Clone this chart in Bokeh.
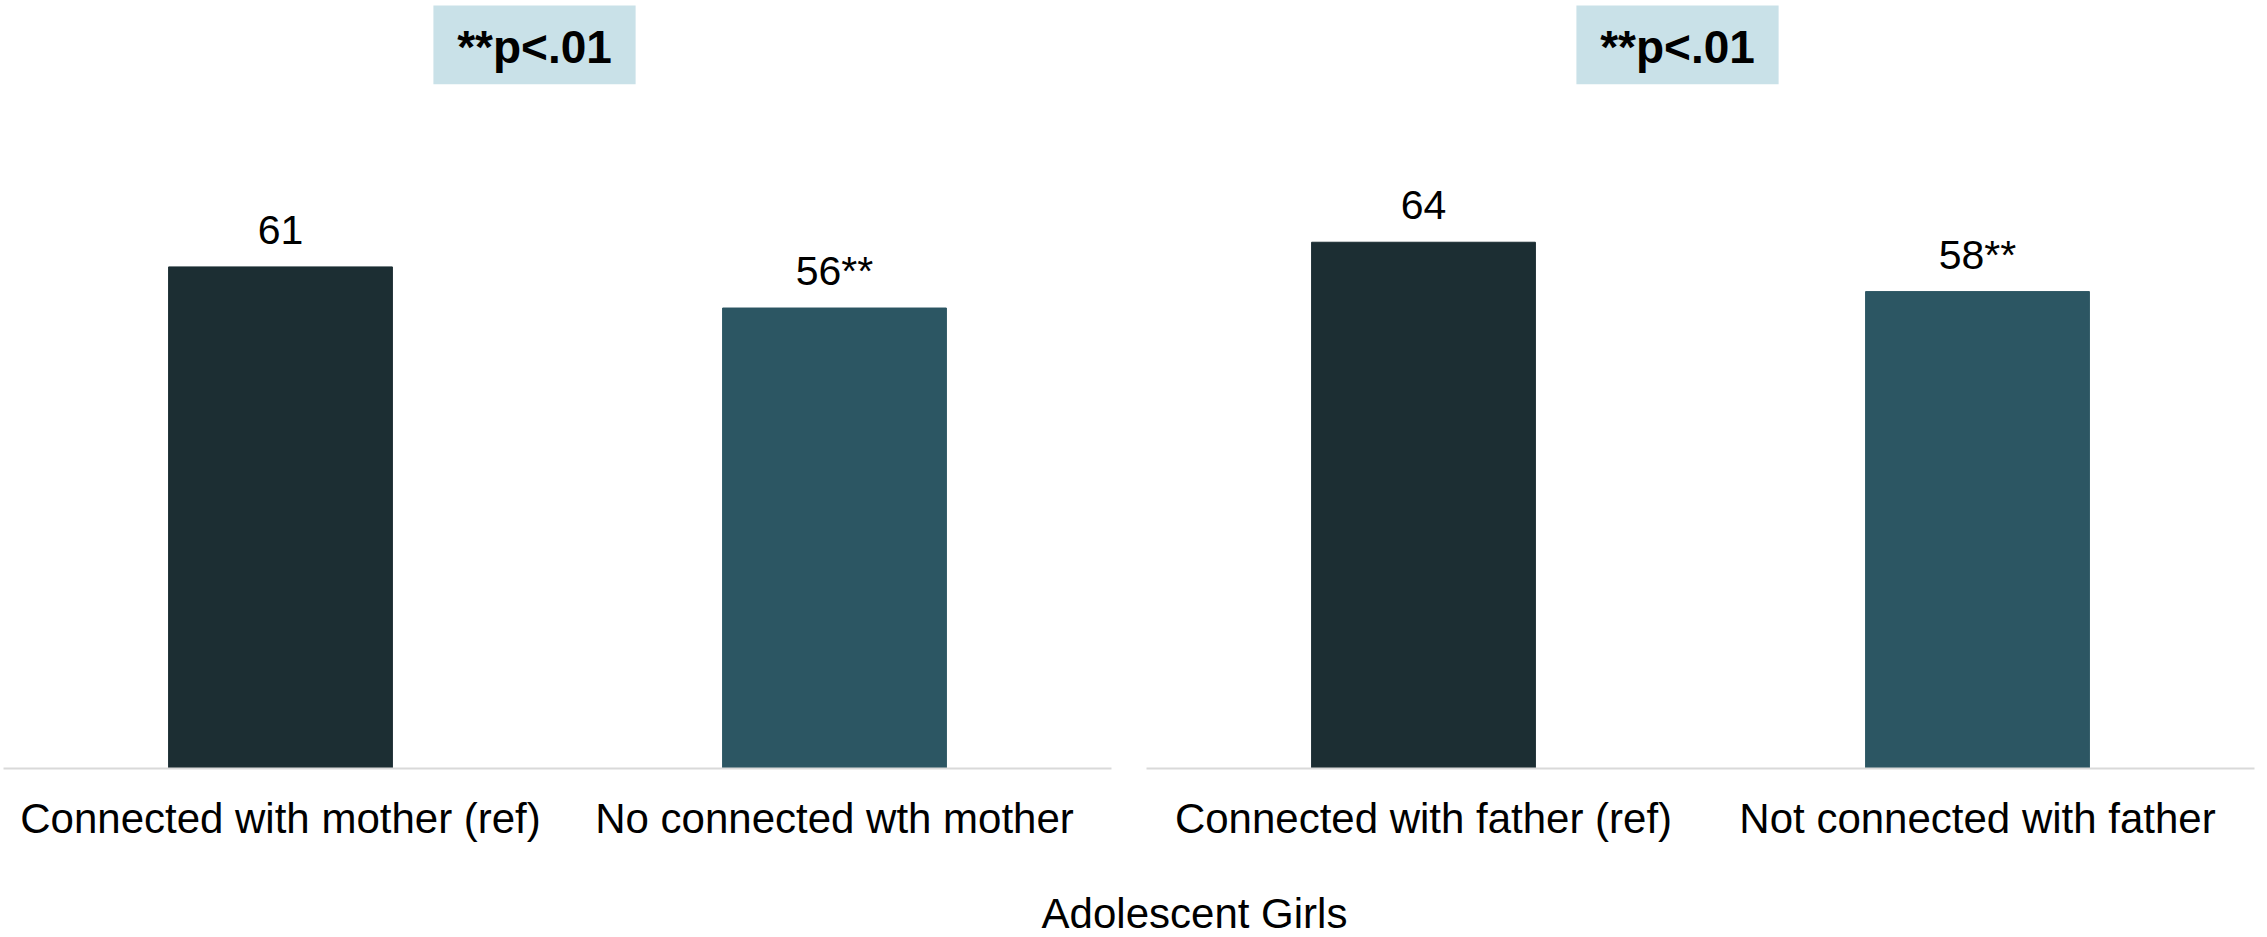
from bokeh.plotting import figure
from bokeh.models import ColumnDataSource, Range1d, LabelSet, Label, BoxAnnotation
from bokeh.layouts import row, column
from bokeh.core.properties import value
from bokeh.embed import file_html
from bokeh.resources import INLINE

# ---- data ----
mother_categories = ["Connected with mother (ref)", "No connected wth mother"]
mother_values = [61, 56]
mother_marks = ["", "**"]

father_categories = ["Connected with father (ref)", "Not connected with father"]
father_values = [64, 58]
father_marks = ["", "**"]

sig_note = "**p<.01"
group_title = "Adolescent Girls"

# ---- styles ----
FONT = "Liberation Sans"
BAR_COLORS = ["#1C2E33", "#2C5663"]
BOX_COLOR = "#C9E1E8"
AXIS_COLOR = "#D9D9D9"
Y_MAX = 93.4
# note box placement (category-axis units / value units)
BOX_LEFT, BOX_RIGHT = 0.776, 1.141
BOX_BOTTOM, BOX_TOP = 83.2, 92.8
NOTE_BASELINE = 87.7


def panel(cats, vals, marks, width, border_left, border_right):
    src = ColumnDataSource(dict(
        cat=cats, val=vals, color=BAR_COLORS,
        txt=[f"{v}{m}" for v, m in zip(vals, marks)],
    ))
    p = figure(x_range=cats, y_range=Range1d(0, Y_MAX), width=width, height=860,
               output_backend="svg", toolbar_location=None, y_axis_location=None,
               min_border_left=border_left, min_border_right=border_right,
               min_border_top=0, min_border_bottom=92)
    p.vbar(x="cat", top="val", width=0.404, color="color", source=src)
    p.add_layout(LabelSet(x="cat", y="val", text="txt", source=src, y_offset=23,
                          text_align="center", text_baseline="alphabetic",
                          text_font=value(FONT), text_font_size="41px",
                          text_color="#000000"))
    p.add_layout(BoxAnnotation(left=BOX_LEFT, right=BOX_RIGHT, bottom=BOX_BOTTOM,
                               top=BOX_TOP, fill_color=BOX_COLOR, fill_alpha=1.0,
                               line_color=None))
    p.add_layout(Label(x=(BOX_LEFT + BOX_RIGHT) / 2, y=NOTE_BASELINE, text=sig_note,
                       text_align="center", text_baseline="alphabetic",
                       text_font=FONT, text_font_size="46px",
                       text_font_style="bold", text_color="#000000"))
    p.xgrid.visible = False
    p.ygrid.visible = False
    p.outline_line_color = None
    ax = p.xaxis[0]
    ax.axis_line_color = AXIS_COLOR
    ax.axis_line_width = 2
    ax.major_tick_line_color = None
    ax.minor_tick_line_color = None
    ax.major_label_standoff = 20
    ax.major_label_text_font = FONT
    ax.major_label_text_font_size = "42px"
    ax.major_label_text_color = "#000000"
    return p


p1 = panel(mother_categories, mother_values, mother_marks, 1128, 3, 17)
p2 = panel(father_categories, father_values, father_marks, 1139, 18, 13)

# bottom strip holding the shared axis title; its ranges map 1 unit to 1 pixel
p3 = figure(width=2267, height=77, x_range=Range1d(0, 2267), y_range=Range1d(0, 77),
            output_backend="svg", toolbar_location=None,
            x_axis_location=None, y_axis_location=None,
            min_border_left=0, min_border_right=0, min_border_top=0, min_border_bottom=0)
p3.outline_line_color = None
p3.xgrid.visible = False
p3.ygrid.visible = False
p3.add_layout(Label(x=1194, y=24, text=group_title,
                    text_align="center", text_baseline="alphabetic",
                    text_font=FONT, text_font_size="42px", text_color="#000000"))

from bokeh.core.validation import silence
from bokeh.core.validation.warnings import MISSING_RENDERERS
silence(MISSING_RENDERERS, True)

layout = column(row(p1, p2), p3)
open("out.html", "w").write(file_html(layout, INLINE))
